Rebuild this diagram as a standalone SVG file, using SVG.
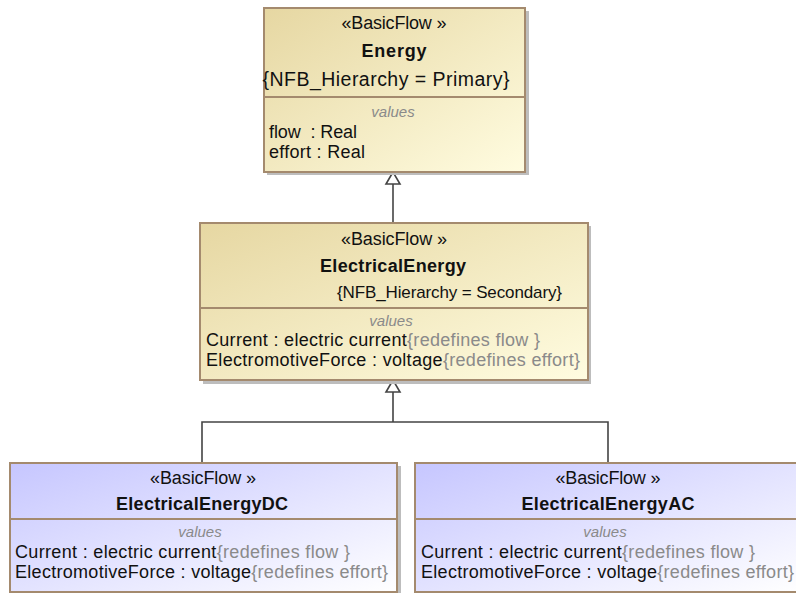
<svg xmlns="http://www.w3.org/2000/svg" width="796" height="593" viewBox="0 0 796 593">
<defs>
<linearGradient id="tan" x1="0" y1="0" x2="1" y2="1">
<stop offset="0" stop-color="#e6d7a2"/>
<stop offset="1" stop-color="#fffce0"/>
</linearGradient>
<linearGradient id="blue" x1="0" y1="0" x2="1" y2="1">
<stop offset="0" stop-color="#c6c6ff"/>
<stop offset="1" stop-color="#ffffff"/>
</linearGradient>
</defs>
<style>
text{font-family:"Liberation Sans",Arial,sans-serif;fill:#111;}
.box{stroke:#a48a6e;stroke-width:2;}
.div{stroke:#a48a6e;stroke-width:2;}
.sh{fill:#bdbdbd;}
.st{font-size:18px;text-anchor:middle;}
.nm{font-size:18px;font-weight:bold;text-anchor:middle;}
.vl{font-size:15px;font-style:italic;fill:#8a8a8a;text-anchor:middle;}
.at{font-size:18px;}
.g{fill:#8a8a8a;}
.ln{stroke:#444;stroke-width:1.6;fill:none;}
.tri{stroke:#444;stroke-width:1.6;fill:#fff;}
</style>

<g id="connectors">
<path class="ln" d="M393 184 V223"/>
<polygon class="tri" points="393,172 386,184 400,184"/>
<path class="ln" d="M393 392 V422 M202 462 V422 H608 V462"/>
<polygon class="tri" points="393,380 386,392 400,392"/>
</g>

<g id="Energy">
<rect class="sh" x="267" y="11" width="262" height="164"/>
<rect class="box" x="264" y="8" width="261" height="164" fill="url(#tan)"/>
<line class="div" x1="264" y1="97" x2="525" y2="97"/>
<text class="st" x="394" y="29" textLength="105">«BasicFlow »</text>
<text class="nm" x="394" y="57" font-size="19" textLength="65">Energy</text>
<text x="386" y="86" text-anchor="middle" textLength="247" font-size="19.5">{NFB_Hierarchy = Primary}</text>
<text class="vl" x="393" y="117">values</text>
<text class="at" x="269" y="138" xml:space="preserve" textLength="88">flow  : Real</text>
<text class="at" x="269" y="158" textLength="96">effort : Real</text>
</g>

<g id="ElectricalEnergy">
<rect class="sh" x="203" y="226" width="388" height="158"/>
<rect class="box" x="200" y="223" width="388" height="157" fill="url(#tan)"/>
<line class="div" x1="200" y1="308" x2="588" y2="308"/>
<text class="st" x="394" y="245" textLength="106">«BasicFlow »</text>
<text class="nm" x="393" y="272" textLength="146">ElectricalEnergy</text>
<text x="337" y="298" font-size="17" textLength="225">{NFB_Hierarchy = Secondary}</text>
<text class="vl" x="391" y="326">values</text>
<text class="at" x="206" y="346" textLength="334">Current : electric current<tspan class="g">{redefines flow }</tspan></text>
<text class="at" x="206" y="366" textLength="374">ElectromotiveForce : voltage<tspan class="g">{redefines effort}</tspan></text>
</g>

<g id="ElectricalEnergyDC">
<rect class="sh" x="13" y="466" width="388" height="130"/>
<rect class="box" x="10" y="463" width="387" height="129" fill="url(#blue)"/>
<line class="div" x1="10" y1="519" x2="397" y2="519"/>
<text class="st" x="203" y="484" textLength="106">«BasicFlow »</text>
<text class="nm" x="202" y="510" textLength="172">ElectricalEnergyDC</text>
<text class="vl" x="200" y="537">values</text>
<text class="at" x="15" y="558" textLength="335">Current : electric current<tspan class="g">{redefines flow }</tspan></text>
<text class="at" x="15" y="578" textLength="373">ElectromotiveForce : voltage<tspan class="g">{redefines effort}</tspan></text>
</g>

<g id="ElectricalEnergyAC">
<rect class="sh" x="418" y="466" width="388" height="130"/>
<rect class="box" x="415" y="463" width="387" height="129" fill="url(#blue)"/>
<line class="div" x1="415" y1="519" x2="802" y2="519"/>
<text class="st" x="608" y="484" textLength="105">«BasicFlow »</text>
<text class="nm" x="608" y="510" textLength="173">ElectricalEnergyAC</text>
<text class="vl" x="605" y="537">values</text>
<text class="at" x="421" y="558" textLength="334">Current : electric current<tspan class="g">{redefines flow }</tspan></text>
<text class="at" x="421" y="578" textLength="373">ElectromotiveForce : voltage<tspan class="g">{redefines effort}</tspan></text>
</g>
</svg>
